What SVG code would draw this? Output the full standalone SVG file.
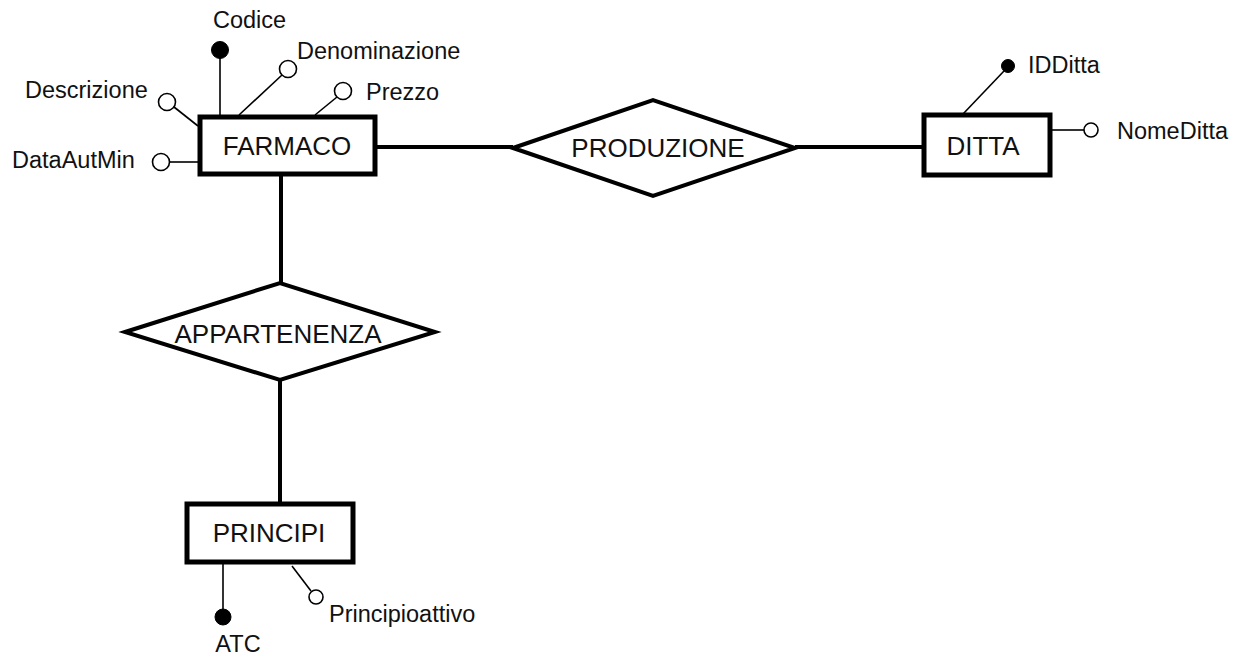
<svg xmlns="http://www.w3.org/2000/svg" width="1242" height="660" viewBox="0 0 1242 660">
  <style>
    .bg { fill: #ffffff; }
    .entity { fill: #ffffff; stroke: #000000; stroke-width: 5; }
    .rel { fill: #ffffff; stroke: #000000; stroke-width: 4; stroke-linejoin: miter; }
    .conn { stroke: #000000; stroke-width: 4; fill: none; }
    .attrline { stroke: #000000; stroke-width: 1.6; fill: none; }
    .key { fill: #000000; stroke: #000000; stroke-width: 1; }
    .opt { fill: #ffffff; stroke: #000000; stroke-width: 1.6; }
    .label { font-family: "Liberation Sans", Arial, sans-serif; font-size: 26px; fill: #111111; text-anchor: middle; }
    .attr { font-family: "Liberation Sans", Arial, sans-serif; font-size: 23.5px; fill: #111111; }
  </style>
  <rect class="bg" x="0" y="0" width="1242" height="660"/>

  <g id="connectors">
    <line class="conn" x1="377" y1="147" x2="513" y2="147"/>
    <line class="conn" x1="795" y1="147" x2="922" y2="147"/>
    <line class="conn" x1="281" y1="176" x2="281" y2="284"/>
    <line class="conn" x1="280" y1="380" x2="280" y2="503"/>
  </g>

  <g id="farmaco">
    <line class="attrline" x1="220" y1="58" x2="220" y2="115"/>
    <circle class="key" cx="220" cy="50" r="8.5"/>
    <text class="attr" x="213" y="28">Codice</text>
    <line class="attrline" x1="282" y1="75" x2="239" y2="115"/>
    <circle class="opt" cx="288" cy="69" r="8.5"/>
    <text class="attr" x="297" y="59">Denominazione</text>
    <line class="attrline" x1="337" y1="97" x2="315" y2="115"/>
    <circle class="opt" cx="343" cy="91" r="8.5"/>
    <text class="attr" x="366" y="100">Prezzo</text>
    <line class="attrline" x1="174" y1="107" x2="198" y2="126"/>
    <circle class="opt" cx="167" cy="102" r="8.5"/>
    <text class="attr" x="25" y="98">Descrizione</text>
    <line class="attrline" x1="170" y1="162" x2="198" y2="162"/>
    <circle class="opt" cx="161" cy="162" r="8.5"/>
    <text class="attr" x="12" y="168">DataAutMin</text>
    <rect class="entity" x="200" y="117" width="175" height="57"/>
    <text class="label" x="287" y="155">FARMACO</text>
  </g>

  <g id="produzione">
    <polygon class="rel" points="513,148 653,100 795,148 653,196"/>
    <text class="label" x="658" y="157">PRODUZIONE</text>
  </g>

  <g id="ditta">
    <line class="attrline" x1="1004" y1="71" x2="963" y2="114"/>
    <circle class="key" cx="1008" cy="66" r="6.5"/>
    <text class="attr" x="1028" y="73">IDDitta</text>
    <line class="attrline" x1="1052" y1="130" x2="1084" y2="130"/>
    <circle class="opt" cx="1091" cy="130" r="7"/>
    <text class="attr" x="1117" y="139">NomeDitta</text>
    <rect class="entity" x="924" y="115" width="126" height="60"/>
    <text class="label" x="983" y="155">DITTA</text>
  </g>

  <g id="appartenenza">
    <polygon class="rel" points="125,332 280,283 435,332 280,380"/>
    <text class="label" x="278" y="343">APPARTENENZA</text>
  </g>

  <g id="principi">
    <line class="attrline" x1="223" y1="564" x2="223" y2="610"/>
    <circle class="key" cx="223" cy="617" r="8"/>
    <text class="attr" x="238" y="652" text-anchor="middle">ATC</text>
    <line class="attrline" x1="292" y1="566" x2="311" y2="591"/>
    <circle class="opt" cx="316" cy="597" r="7"/>
    <text class="attr" x="329" y="622">Principioattivo</text>
    <rect class="entity" x="187" y="504" width="166" height="58"/>
    <text class="label" x="269" y="542">PRINCIPI</text>
  </g>
</svg>
